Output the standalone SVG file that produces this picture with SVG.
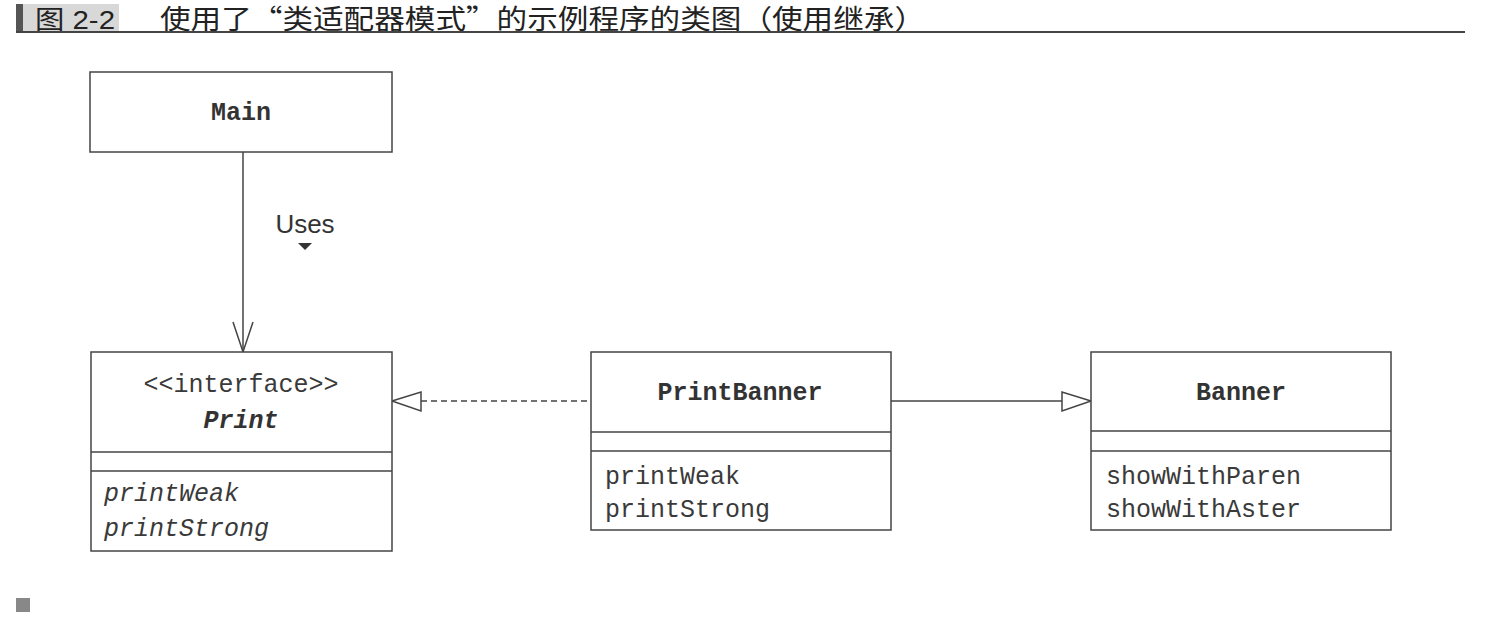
<svg xmlns="http://www.w3.org/2000/svg" width="1509" height="619" viewBox="0 0 1509 619">
<style>
.box{fill:#fff;stroke:#444;stroke-width:1.5}
.ln{stroke:#444;stroke-width:1.5;fill:none}
.mono{font-family:"Liberation Mono","DejaVu Sans Mono",monospace;font-size:25px;fill:#3a3a3a}
.b{font-weight:bold;fill:#333}
.c{text-anchor:middle}
.hdr{font-family:"Liberation Sans","Noto Sans CJK SC",sans-serif;font-size:26px;fill:#222}
.cjk{font-family:"Noto Sans CJK SC",sans-serif;font-size:27px;fill:#222}
</style>
<rect width="1509" height="619" fill="#fff"/>
<g id="header">
<rect x="16" y="4" width="7" height="28" fill="#555"/>
<rect x="23" y="4" width="96" height="28" fill="#d8d8d8"/>
<text x="35" y="29" class="hdr" textLength="80" lengthAdjust="spacingAndGlyphs">图 2-2</text>
<text x="160" y="29" class="cjk" textLength="765" lengthAdjust="spacingAndGlyphs">使用了“类适配器模式”的示例程序的类图（使用继承）</text>
<line x1="16" y1="32" x2="1465" y2="32" stroke="#444" stroke-width="2"/>
</g>
<g id="connectors">
<line class="ln" x1="243" y1="152" x2="243" y2="352"/>
<polyline class="ln" points="233,322 243,352 253,322"/>
<text x="305" y="233" font-family="Liberation Sans, sans-serif" font-size="26" fill="#333" text-anchor="middle">Uses</text>
<polygon points="298,243 312,243 305,250" fill="#333"/>
<line class="ln" x1="421" y1="401" x2="591" y2="401" stroke-dasharray="6,4"/>
<polygon class="ln" points="392,401 421,392 421,411" fill="#fff"/>
<line class="ln" x1="891" y1="401" x2="1062" y2="401"/>
<polygon class="ln" points="1091,401 1062,392 1062,411" fill="#fff"/>
</g>
<g id="Main">
<rect class="box" x="90" y="72" width="302" height="80"/>
<text class="mono b c" x="241" y="120">Main</text>
</g>
<g id="Print">
<rect class="box" x="91" y="352" width="301" height="199"/>
<line class="ln" x1="91" y1="452" x2="392" y2="452"/>
<line class="ln" x1="91" y1="471" x2="392" y2="471"/>
<text class="mono c" x="241" y="392" fill="#555">&lt;&lt;interface&gt;&gt;</text>
<text class="mono b c" x="241" y="428" font-style="italic">Print</text>
<text class="mono" x="104" y="501" font-style="italic">printWeak</text>
<text class="mono" x="104" y="536" font-style="italic">printStrong</text>
</g>
<g id="PrintBanner">
<rect class="box" x="591" y="352" width="300" height="178"/>
<line class="ln" x1="591" y1="432" x2="891" y2="432"/>
<line class="ln" x1="591" y1="451" x2="891" y2="451"/>
<text class="mono b c" x="740" y="400">PrintBanner</text>
<text class="mono" x="605" y="484">printWeak</text>
<text class="mono" x="605" y="517">printStrong</text>
</g>
<g id="Banner">
<rect class="box" x="1091" y="352" width="300" height="178"/>
<line class="ln" x1="1091" y1="431" x2="1391" y2="431"/>
<line class="ln" x1="1091" y1="451" x2="1391" y2="451"/>
<text class="mono b c" x="1241" y="400">Banner</text>
<text class="mono" x="1106" y="484">showWithParen</text>
<text class="mono" x="1106" y="517">showWithAster</text>
</g>
<rect x="16" y="598" width="14" height="14" fill="#888"/>
</svg>
